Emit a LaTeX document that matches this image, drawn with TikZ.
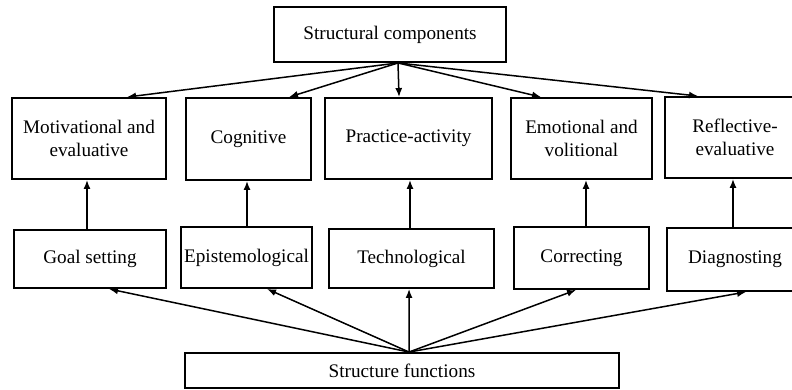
\documentclass[tikz,border=0pt]{standalone}
\usepackage{fontspec}
\setmainfont{Liberation Serif}
\usetikzlibrary{arrows.meta}
\begin{document}
\begin{tikzpicture}[x=1pt,y=-1pt,
  box/.style={draw,line width=1.9pt,rectangle,inner sep=0pt,align=center,
    font=\fontsize{19.2}{23}\selectfont},
  arr/.style={line width=1.5pt,-{Latex[length=9pt,width=7pt]}}]
\useasboundingbox (0,0) rectangle (792,389);
\node[box,minimum width=232pt,minimum height=55pt] (top) at (390,34.5) {Structural components};
\node[box,minimum width=154pt,minimum height=81pt] (mot) at (89,138.5) {Motivational and\\evaluative};
\node[box,minimum width=125pt,minimum height=82pt] (cog) at (248.5,139) {Cognitive};
\node[box,minimum width=167pt,minimum height=81pt] (prac) at (408.5,138.5) {Practice-activity};
\node[box,minimum width=141pt,minimum height=81pt] (emo) at (581.5,138.5) {Emotional and\\volitional};
\node[box,minimum width=140pt,minimum height=81pt] (refl) at (735,137.5) {Reflective-\\evaluative};
\node[box,minimum width=152pt,minimum height=58pt] (goal) at (90,259) {Goal setting};
\node[box,minimum width=131pt,minimum height=61pt] (epi) at (246.5,257.5) {Epistemological};
\node[box,minimum width=165pt,minimum height=59pt] (tech) at (411.5,258.5) {Technological};
\node[box,minimum width=135pt,minimum height=62pt] (corr) at (581.5,258) {Correcting};
\node[box,minimum width=136pt,minimum height=63pt] (diag) at (735,259.5) {Diagnosting};
\node[box,minimum width=434pt,minimum height=35pt] (sf) at (402,370.5) {Structure functions};
\coordinate (ta) at ([xshift=8pt]top.south);
\coordinate (ba) at ([xshift=7pt]sf.north);
\draw[arr] (ta) -- ([xshift=116pt]mot.north west);
\draw[arr] (ta) -- ([xshift=104pt]cog.north west);
\draw[arr] (ta) -- ([xshift=75pt]prac.north west);
\draw[arr] (ta) -- ([xshift=31pt]emo.north west);
\draw[arr] (ta) -- ([xshift=34pt]refl.north west);
\draw[arr] (ba) -- ([xshift=96pt]goal.south west);
\draw[arr] (ba) -- ([xshift=87pt]epi.south west);
\draw[arr] (ba) -- ([xshift=81pt]tech.south west);
\draw[arr] (ba) -- ([xshift=63pt]corr.south west);
\draw[arr] (ba) -- ([xshift=80pt]diag.south west);
\draw[arr] ([xshift=-3pt]goal.north) -- ([xshift=-3pt]goal.north |- mot.south);
\draw[arr] ([xshift=0.5pt]epi.north) -- ([xshift=0.5pt]epi.north |- cog.south);
\draw[arr] ([xshift=-1.5pt]tech.north) -- ([xshift=-1.5pt]tech.north |- prac.south);
\draw[arr] ([xshift=4.5pt]corr.north) -- ([xshift=4.5pt]corr.north |- emo.south);
\draw[arr] ([xshift=-2pt]diag.north) -- ([xshift=-2pt]diag.north |- refl.south);
\end{tikzpicture}
\end{document}
